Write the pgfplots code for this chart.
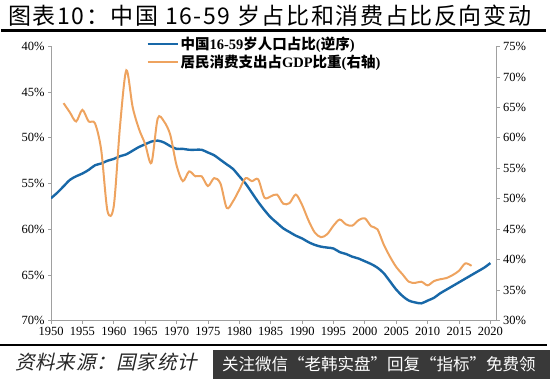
\documentclass[border=0pt]{standalone}
\usepackage{pgfplots}
\pgfplotsset{compat=1.18}
\usepackage{fontspec}
\setmainfont{Liberation Serif}
\newfontfamily\cjk{Noto Sans CJK SC}
\newfontfamily\cjktitle{Noto Sans CJK SC}[LetterSpace=7]
\newfontfamily\cjksl{Noto Sans CJK SC}[FakeSlant=0.22, LetterSpace=4]
\definecolor{cblue}{RGB}{24,104,168}
\definecolor{corange}{RGB}{238,163,95}
\definecolor{axgray}{RGB}{160,160,160}
\begin{document}
\begin{tikzpicture}[x=1pt,y=1pt]
\path[use as bounding box] (0,0) rectangle (550,379);
\node[anchor=west, font=\cjktitle\fontsize{23}{23}\selectfont, inner sep=0] at (8,363) {图表10：中国 16-59 岁占比和消费占比反向变动};
\node[anchor=south west, inner sep=0pt, outer sep=0pt] at (1,346.5) {\rule{545pt}{3pt}};
\begin{axis}[
  at={(51pt,58.3pt)}, anchor=south west,
  width=445.7pt, height=274.2pt, scale only axis,
  xmin=1950, xmax=2021, ymin=40, ymax=70, y dir=reverse,
  axis x line*=bottom, axis y line*=left,
  axis line style={-, draw=axgray, line width=1pt},
  xtick={1950,1955,...,2020}, ytick={40,45,...,70},
  tick align=outside, major tick length=3pt,
  tick style={draw=axgray, line width=0.8pt},
  /pgf/number format/assume math mode=true,
  /pgf/number format/1000 sep={},
  ticklabel style={font=\fontsize{12.5}{12.5}\selectfont, text=black},
  yticklabel={\pgfmathprintnumber{\tick}\%},
]
\addplot[cblue, line width=2.4pt, smooth, tension=0.5] coordinates {
(1950,56.6)(1951,56.0)(1952,55.3)(1953,54.6)(1954,54.2)(1955,53.9)(1956,53.5)(1957,53.0)(1958,52.8)(1959,52.5)
(1960,52.3)(1961,52.0)(1962,51.8)(1963,51.4)(1964,51.0)(1965,50.7)(1966,50.4)(1967,50.3)(1968,50.5)(1969,50.9)
(1970,51.2)(1971,51.2)(1972,51.3)(1973,51.3)(1974,51.3)(1975,51.6)(1976,51.9)(1977,52.4)(1978,52.9)(1979,53.4)
(1980,54.2)(1981,55.0)(1982,56.0)(1983,57.0)(1984,57.9)(1985,58.7)(1986,59.3)(1987,59.9)(1988,60.3)(1989,60.7)
(1990,61.0)(1991,61.4)(1992,61.7)(1993,61.9)(1994,62.0)(1995,62.1)(1996,62.5)(1997,62.7)(1998,63.0)(1999,63.2)
(2000,63.5)(2001,63.8)(2002,64.2)(2003,64.8)(2004,65.7)(2005,66.6)(2006,67.3)(2007,67.8)(2008,68.0)(2009,68.1)
(2010,67.8)(2011,67.5)(2012,67.0)(2013,66.6)(2014,66.2)(2015,65.8)(2016,65.4)(2017,65.0)(2018,64.6)(2019,64.2)
(2020,63.7)};
\end{axis}
\begin{axis}[
  at={(51pt,58.3pt)}, anchor=south west,
  width=445.7pt, height=274.2pt, scale only axis,
  xmin=1950, xmax=2021, ymin=30, ymax=75,
  axis x line=none, axis y line*=right,
  axis line style={-, draw=axgray, line width=1pt},
  ytick={30,35,...,75},
  tick align=outside, major tick length=3pt,
  tick style={draw=axgray, line width=0.8pt},
  /pgf/number format/assume math mode=true,
  ticklabel style={font=\fontsize{12.5}{12.5}\selectfont, text=black},
  yticklabel={\pgfmathprintnumber{\tick}\%},
  legend style={at={(axis cs:1965.2,77.0)}, anchor=north west, draw=none, fill=none,
    font=\fontsize{14.5}{18}\selectfont\bfseries, inner sep=0pt, row sep=0pt,
    cells={anchor=west}},
  legend image code/.code={\draw[#1, line width=2pt] (0pt,0pt) -- (30pt,0pt);},
]
\addlegendimage{cblue}
\addlegendentry{{\cjk\bfseries 中国}16-59{\cjk\bfseries 岁人口占比}({\cjk\bfseries 逆序})}
\addplot[corange, line width=2pt, smooth, tension=0.5] coordinates {
(1952,65.7)(1953,64.2)(1954,62.7)(1955,64.6)(1956,62.7)(1957,62.4)(1958,58.0)(1959,48.0)
(1960,48.8)(1961,62.0)(1962,71.1)(1963,65.1)(1964,61.5)(1965,59.0)(1966,55.9)(1967,63.2)(1968,62.7)(1969,60.5)
(1970,55.5)(1971,52.9)(1972,54.5)(1973,53.7)(1974,53.7)(1975,52.1)(1976,53.4)(1977,52.5)(1978,48.5)(1979,49.6)
(1980,51.5)(1981,53.4)(1982,52.9)(1983,53.2)(1984,50.2)(1985,50.4)(1986,50.7)(1987,49.2)(1988,49.3)(1989,50.7)
(1990,49.0)(1991,46.5)(1992,44.5)(1993,43.7)(1994,44.2)(1995,45.6)(1996,46.6)(1997,45.8)(1998,45.6)(1999,46.5)
(2000,46.8)(2001,45.5)(2002,45.0)(2003,42.5)(2004,40.5)(2005,38.8)(2006,37.6)(2007,36.4)(2008,36.2)(2009,36.4)
(2010,35.8)(2011,36.5)(2012,36.8)(2013,37.0)(2014,37.5)(2015,38.2)(2016,39.4)(2017,39.0)};
\addlegendentry{{\cjk\bfseries 居民消费支出占}GDP{\cjk\bfseries 比重}({\cjk\bfseries 右轴})}
\end{axis}
\node[anchor=south west, inner sep=0pt, outer sep=0pt] at (0,32.7) {\rule{547pt}{2.6pt}};
\node[anchor=west, font=\cjksl\fontsize{19.5}{19.5}\selectfont, inner sep=0, text=black!85] at (15,17) {资料来源：国家统计};
\fill[black!82, opacity=0.95] (213,0) rectangle (550,29);
\node[anchor=west, font=\cjk\fontsize{16.5}{16.5}\selectfont, inner sep=0, text=white] at (222,14.5) {关注微信“老韩实盘”回复“指标”免费领};
\end{tikzpicture}
\end{document}
